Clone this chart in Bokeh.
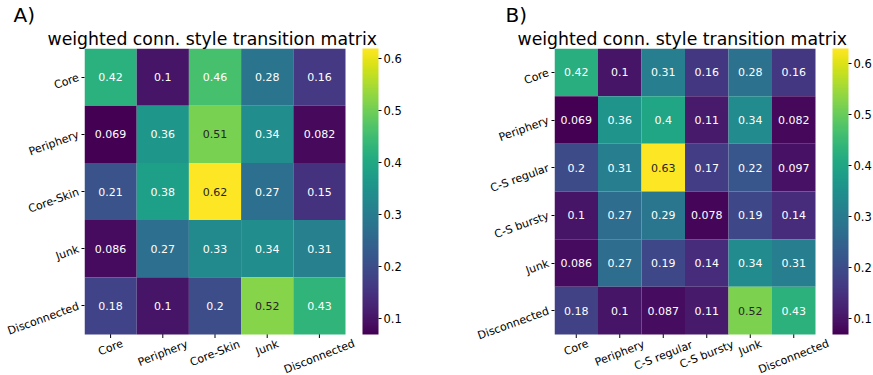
import math
from bokeh.plotting import figure
from bokeh.models import (ColumnDataSource, LinearColorMapper, ColorBar, FixedTicker,
                          Range1d, Title)
from bokeh.palettes import Viridis256
from bokeh.layouts import row
from bokeh.transform import transform
from bokeh.embed import file_html
from bokeh.resources import INLINE
from bokeh.core.properties import value

title_text = "weighted conn. style transition matrix"

labels_a = ["Core", "Periphery", "Core-Skin", "Junk", "Disconnected"]
core_a = [0.42, 0.1, 0.46, 0.28, 0.16]
periphery_a = [0.069, 0.36, 0.51, 0.34, 0.082]
coreskin_a = [0.21, 0.38, 0.62, 0.27, 0.15]
junk_a = [0.086, 0.27, 0.33, 0.34, 0.31]
disconnected_a = [0.18, 0.1, 0.2, 0.52, 0.43]
matrix_a = [core_a, periphery_a, coreskin_a, junk_a, disconnected_a]

labels_b = ["Core", "Periphery", "C-S regular", "C-S bursty", "Junk", "Disconnected"]
core_b = [0.42, 0.1, 0.31, 0.16, 0.28, 0.16]
periphery_b = [0.069, 0.36, 0.4, 0.11, 0.34, 0.082]
csregular_b = [0.2, 0.31, 0.63, 0.17, 0.22, 0.097]
csbursty_b = [0.1, 0.27, 0.29, 0.078, 0.19, 0.14]
junk_b = [0.086, 0.27, 0.19, 0.14, 0.34, 0.31]
disconnected_b = [0.18, 0.1, 0.087, 0.11, 0.52, 0.43]
matrix_b = [core_b, periphery_b, csregular_b, csbursty_b, junk_b, disconnected_b]

cbar_ticks = [0.1, 0.2, 0.3, 0.4, 0.5, 0.6]

FONT = "DejaVu Sans"
XANGLE = math.radians(21.5)
YANGLE = math.radians(20)
HEAT_W = 261      # pixel width of the heatmap block
HEAT_H = 286      # pixel height of the heatmap block
LABEL_AREA = 42   # pixels below the heatmap reserved for x tick labels
RIGHT_EXT = 16    # pixels right of the heatmap for the last rotated label


def text_color(v, low, high):
    idx = int(round((v - low) / (high - low) * 255))
    idx = max(0, min(255, idx))
    h = Viridis256[idx].lstrip("#")
    rgb = [int(h[i:i + 2], 16) / 255 for i in (0, 2, 4)]
    lin = [c / 12.92 if c <= 0.03928 else ((c + 0.055) / 1.055) ** 2.4 for c in rgb]
    lum = 0.2126 * lin[0] + 0.7152 * lin[1] + 0.0722 * lin[2]
    return "#262626" if lum > 0.408 else "white"


def make_panel(labels, matrix, panel_text, border_left, border_right, label_dx):
    n = len(labels)
    flat = [v for r in matrix for v in r]
    low, high = min(flat), max(flat)
    row_pos = {name: n - i - 0.5 for i, name in enumerate(labels)}
    col_pos = {name: j + 0.5 for j, name in enumerate(labels)}
    xs, ys, vs, txt, tc = [], [], [], [], []
    for i, rname in enumerate(labels):
        for j, cname in enumerate(labels):
            v = matrix[i][j]
            xs.append(col_pos[cname])
            ys.append(row_pos[rname])
            vs.append(v)
            txt.append(f"{v:.2g}")
            tc.append(text_color(v, low, high))
    src = ColumnDataSource(dict(x=xs, y=ys, v=vs, txt=txt, tc=tc))
    mapper = LinearColorMapper(palette=Viridis256, low=low, high=high)

    pad_y = LABEL_AREA / (HEAT_H / n)
    pad_x = RIGHT_EXT / (HEAT_W / n)
    p = figure(x_range=Range1d(0, n + pad_x), y_range=Range1d(-pad_y, n),
               frame_width=HEAT_W + RIGHT_EXT, frame_height=HEAT_H + LABEL_AREA,
               min_border_left=border_left, min_border_right=border_right,
               min_border_top=47, min_border_bottom=0,
               toolbar_location=None, output_backend="svg")

    # x tick marks (upper half hidden under the cells)
    tsrc = ColumnDataSource(dict(x=[col_pos[nm] for nm in labels], y=[0] * n))
    p.scatter(x="x", y="y", source=tsrc, marker="dash", size=7, angle=math.pi / 2,
              line_color="black", line_width=1)

    p.rect(x="x", y="y", width=1, height=1, source=src,
           fill_color=transform("v", mapper), line_color=None)
    p.text(x="x", y="y", text="txt", source=src, text_color="tc",
           text_align="center", text_baseline="middle",
           text_font=value(FONT), text_font_size="11px")

    # x tick labels, centred under the ticks (matplotlib style)
    lw = [len(s) * 6.1 for s in labels]
    yoff = [5 + (w * math.sin(XANGLE) + 8 * math.cos(XANGLE)) / 2 for w in lw]
    lsrc = ColumnDataSource(dict(x=[col_pos[nm] for nm in labels], y=[0] * n,
                                 t=list(labels), yo=yoff))
    p.text(x="x", y="y", text="t", y_offset="yo", source=lsrc, angle=XANGLE,
           text_align="center", text_baseline="middle",
           text_font=value(FONT), text_font_size="11px", text_color="black")

    # panel letter (outermost title)
    p.title.text = panel_text
    p.title.align = "left"
    p.title.offset = label_dx
    p.title.text_font = FONT
    p.title.text_font_size = "20px"
    p.title.text_font_style = "normal"
    p.title.text_color = "black"
    p.title.standoff = 0

    main = Title(text=title_text, align="left", offset=-37,
                 text_font=FONT, text_font_size="17.3px", text_font_style="normal",
                 text_color="black", standoff=0)
    p.add_layout(main, "above")

    p.xaxis.visible = False
    ay = p.yaxis[0]
    ay.ticker = FixedTicker(ticks=[row_pos[nm] for nm in labels])
    ay.major_label_overrides = {row_pos[nm]: nm for nm in labels}
    ay.axis_line_color = None
    ay.major_tick_in = 0
    ay.major_tick_out = 3
    ay.major_tick_line_color = "black"
    ay.minor_tick_line_color = None
    ay.major_label_text_font = FONT
    ay.major_label_text_font_size = "11px"
    ay.major_label_text_color = "black"
    ay.major_label_standoff = 3
    ay.major_label_orientation = YANGLE

    p.xgrid.grid_line_color = None
    p.ygrid.grid_line_color = None
    p.outline_line_color = None

    cb = ColorBar(color_mapper=mapper, ticker=FixedTicker(ticks=cbar_ticks),
                  width=16, height=HEAT_H, padding=0, margin=0,
                  location=(17 - RIGHT_EXT, LABEL_AREA),
                  major_tick_in=0, major_tick_out=3, major_tick_line_color="black",
                  label_standoff=2, major_label_text_font=FONT,
                  major_label_text_font_size="11.5px", major_label_text_color="black",
                  bar_line_color=None, border_line_color=None)
    p.add_layout(cb, "right")
    return p


pa = make_panel(labels_a, matrix_a, "A)", 73, 106 - RIGHT_EXT, -71)
pb = make_panel(labels_b, matrix_b, "B)", 103, 55 - RIGHT_EXT, -49)

layout = row(pa, pb)
with open("out.html", "w") as f:
    f.write(file_html(layout, INLINE))
